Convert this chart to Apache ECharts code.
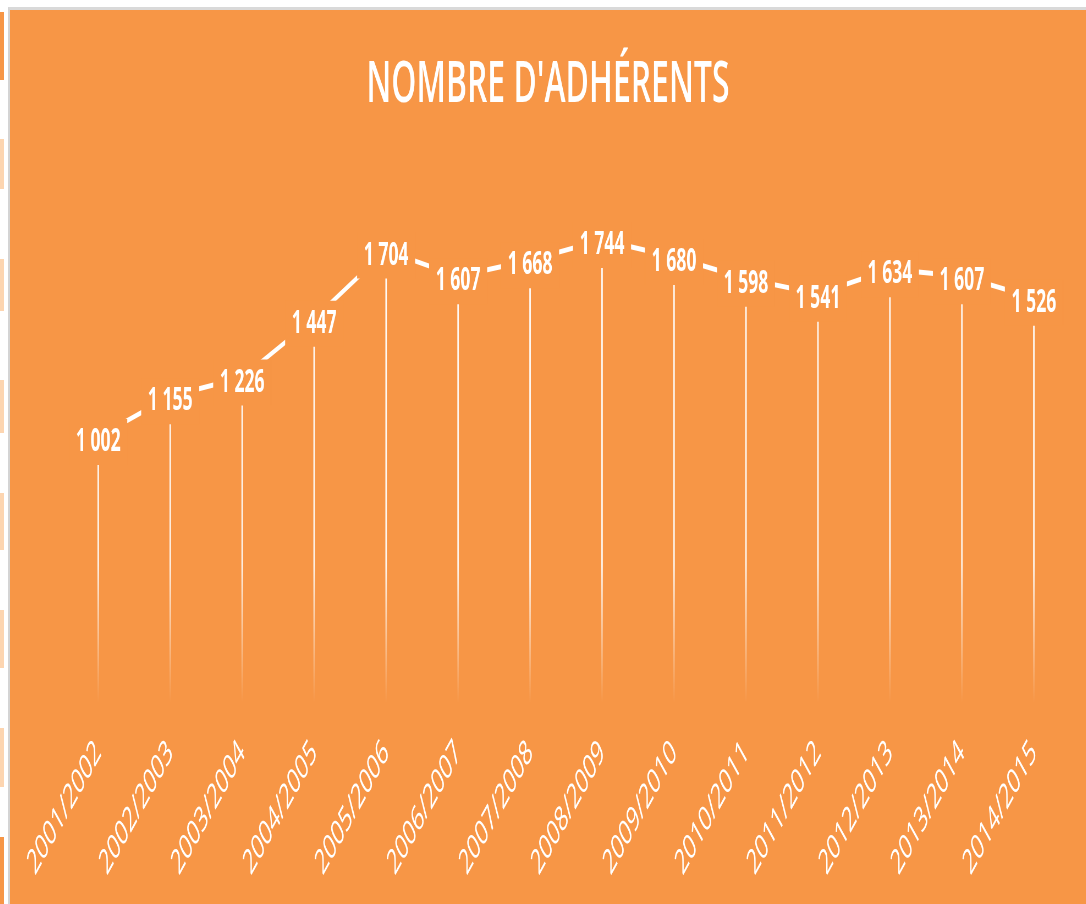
<!DOCTYPE html>
<html>
<head>
<meta charset="utf-8">
<script src="https://cdn.jsdelivr.net/npm/echarts@6/dist/echarts.min.js"></script>
<style>
  html, body { margin: 0; padding: 0; background: #fff; overflow: hidden; width: 1086px; height: 904px; }
  #frame { position: absolute; left: 8px; top: 7px; width: 1078px; height: 897px;
           border-left: 2px solid #d4d4d4; border-top: 3px solid #d9d9d9; box-sizing: border-box; background: #F79646; }
  #chart { position: absolute; left: 10px; top: 10px; width: 1956px; height: 894px;
           transform: scaleX(0.55); transform-origin: 0 0; }
  .cell { position: absolute; left: 0; width: 4px; }
</style>
</head>
<body>
<div id="frame"></div>
<div id="strip"></div>
<div id="chart"></div>
<script>
const seasons = ["2001/2002", "2002/2003", "2003/2004", "2004/2005", "2005/2006", "2006/2007", "2007/2008",
                 "2008/2009", "2009/2010", "2010/2011", "2011/2012", "2012/2013", "2013/2014", "2014/2015"];
const members = [1002, 1155, 1226, 1447, 1704, 1607, 1668, 1744, 1680, 1598, 1541, 1634, 1607, 1526];
const chartTitle = "NOMBRE D'ADHÉRENTS";

// bits of the spreadsheet showing on the left edge
const strip = document.getElementById("strip");
[[12, 68, "#F79646"], [139, 50, "#FDD5B0"], [259, 52, "#FDD5B0"], [380, 53, "#FDD5B0"],
 [493, 57, "#FDD5B0"], [610, 58, "#FDD5B0"], [728, 59, "#FDD5B0"], [837, 67, "#F79646"]].forEach(([t, h, c]) => {
  const d = document.createElement("div");
  d.className = "cell";
  d.style.top = t + "px";
  d.style.height = h + "px";
  d.style.background = c;
  strip.appendChild(d);
});

const orange = "#F79646";
const fmt = (v) => String(v).replace(/\B(?=(\d{3})+(?!\d))/g, " ");

const chart = echarts.init(document.getElementById("chart"));
chart.setOption({
  backgroundColor: orange,
  animation: false,
  title: {
    text: chartTitle,
    left: "center",
    top: 41,
    textStyle: { color: "#fff", fontFamily: "Open Sans", fontWeight: 600, fontSize: 58 },
  },
  grid: { left: 95, right: 29, top: 162, bottom: 201, containLabel: false },
  xAxis: {
    type: "category",
    data: seasons,
    boundaryGap: true,
    axisLine: { show: false },
    axisTick: { show: false },
    splitLine: { show: false },
    axisLabel: { interval: 0, rotate: 45, margin: 44, color: "#fff", fontFamily: "Open Sans", fontSize: 35 },
  },
  yAxis: { type: "value", min: 0, max: 2000, show: false },
  series: [
    {
      type: "bar",
      data: members,
      barWidth: 2.8,
      z: 1,
      silent: true,
      itemStyle: {
        color: new echarts.graphic.LinearGradient(0, 0, 0, 693, [
          { offset: 0, color: "rgba(255,255,255,1)" },
          { offset: 0.8, color: "rgba(255,255,255,0.9)" },
          { offset: 1, color: "rgba(255,255,255,0)" },
        ], true),
      },
    },
    {
      type: "line",
      data: members,
      z: 2,
      silent: true,
      symbol: "circle",
      symbolSize: 2,
      itemStyle: { color: "#fff" },
      lineStyle: { color: "#fff", width: 5 },
      label: {
        show: true,
        position: "inside",
        offset: [0, 5],
        formatter: (p) => fmt(p.value),
        color: "#fff",
        fontFamily: "Open Sans",
        fontWeight: "bold",
        fontSize: 32,
        backgroundColor: orange,
        padding: [2, 12, 12, 12],
      },
    },
  ],
});
</script>
</body>
</html>
